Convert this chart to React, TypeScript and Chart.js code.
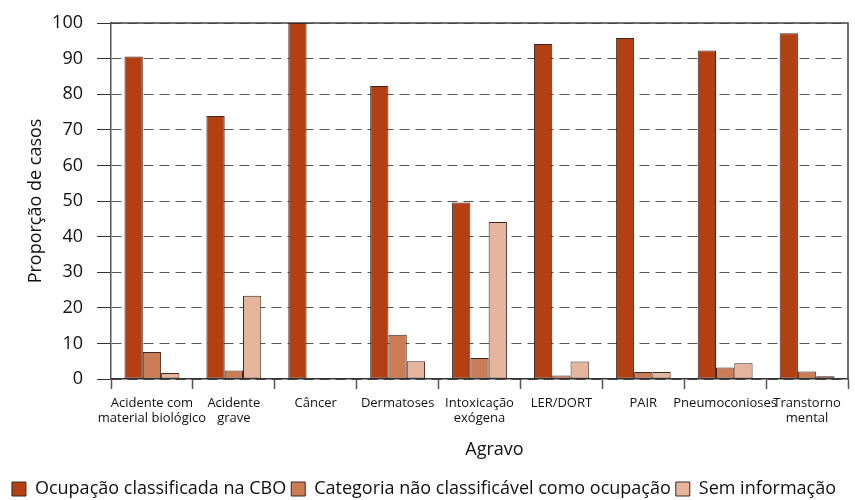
import React, { useEffect, useRef } from "react";
import { Chart, registerables } from "chart.js";

Chart.register(...registerables);

const categories: (string | string[])[] = [
  ["Acidente com", "material biológico"],
  ["Acidente", "grave"],
  "Câncer",
  "Dermatoses",
  ["Intoxicação", "exógena"],
  "LER/DORT",
  "PAIR",
  "Pneumoconioses",
  ["Transtorno", "mental"],
];

const seriesNames = [
  "Ocupação classificada na CBO",
  "Categoria não classificável como ocupação",
  "Sem informação",
];

const ocupacaoCBO = [90.6, 73.9, 100, 82.3, 49.6, 94.1, 95.8, 92.3, 97.1];
const categoriaNaoClassificavel = [7.6, 2.4, 0, 12.4, 5.9, 1.0, 2.0, 3.2, 2.1];
const semInformacao = [1.7, 23.4, 0, 5.0, 44.1, 4.9, 2.0, 4.4, 0.8];

const yMin = 0;
const yMax = 100;
const yStep = 10;

const xTitle = "Agravo";
const yTitle = "Proporção de casos";

const colors = ["#B24013", "#CC7C54", "#E4B59C"];
const FONT = "'Open Sans', sans-serif";

const framePlugin = {
  id: "frame",
  beforeDatasetsDraw(chart: any) {
    const { ctx, chartArea } = chart;
    const { left, right, top, bottom } = chartArea;
    ctx.save();
    ctx.strokeStyle = "#444";
    ctx.lineWidth = 1.5;
    ctx.beginPath();
    ctx.moveTo(left, top);
    ctx.lineTo(right, top);
    ctx.lineTo(right, bottom);
    ctx.stroke();
    ctx.restore();
  },
  afterDraw(chart: any) {
    const { ctx, chartArea } = chart;
    ctx.save();
    ctx.fillStyle = "#111";
    ctx.font = `18px ${FONT}`;
    ctx.textAlign = "center";
    ctx.textBaseline = "middle";
    ctx.fillText(xTitle, (chartArea.left + chartArea.right) / 2 + 15, 450);
    ctx.restore();
  },
};

export default function App() {
  const ref = useRef<HTMLCanvasElement | null>(null);

  useEffect(() => {
    document.body.style.margin = "0";
    if (!ref.current) return;
    const series = [ocupacaoCBO, categoriaNaoClassificavel, semInformacao];
    const chart = new Chart(ref.current, {
      type: "bar",
      data: {
        labels: categories,
        datasets: series.map((d, i) => ({
          label: seriesNames[i],
          data: d,
          backgroundColor: colors[i],
          borderColor: "#3a2820",
          borderWidth: 1,
          borderSkipped: false,
          categoryPercentage: 0.67,
          barPercentage: 1,
        })),
      },
      options: {
        responsive: false,
        animation: false,
        layout: { padding: { top: 23, right: 7, left: 0, bottom: -8 } },
        plugins: {
          tooltip: { enabled: false },
          legend: {
            position: "bottom",
            labels: {
              boxWidth: 14,
              boxHeight: 14,
              padding: 5,
              color: "#111",
              font: { family: FONT, size: 18 },
            },
          },
        },
        scales: {
          x: {
            afterFit(scale: any) {
              scale.height = 96;
              scale.paddingLeft = 0;
              scale.paddingRight = 0;
            },
            grid: {
              display: true,
              drawOnChartArea: false,
              drawTicks: true,
              tickLength: 10,
              tickColor: "#555",
              tickWidth: 1.5,
              offset: true,
            },
            border: { display: true, color: "#333", width: 1.5 },
            ticks: {
              color: "#111",
              padding: 6,
              maxRotation: 0,
              autoSkip: false,
              font: { family: FONT, size: 13 },
            },
            title: { display: false, text: xTitle },
          },
          y: {
            min: yMin,
            max: yMax,
            afterFit(scale: any) {
              scale.width = 111;
              scale.paddingTop = 0;
              scale.paddingBottom = 0;
            },
            ticks: {
              stepSize: yStep,
              color: "#111",
              padding: 14,
              font: { family: FONT, size: 18 },
            },
            grid: {
              color: "#555",
              lineWidth: 1,
              drawTicks: true,
              tickLength: 14,
              tickColor: "#333",
              tickWidth: 1,
              tickBorderDash: [],
            },
            border: { display: true, color: "#555", width: 1.5, dash: [10, 6] },
            title: {
              display: true,
              text: yTitle,
              color: "#111",
              font: { family: FONT, size: 18 },
              padding: { top: 25, bottom: 0 },
            },
          },
        },
      },
      plugins: [framePlugin],
    } as any);
    return () => chart.destroy();
  }, []);

  return <canvas ref={ref} width={855} height={500} style={{ display: "block" }} />;
}
